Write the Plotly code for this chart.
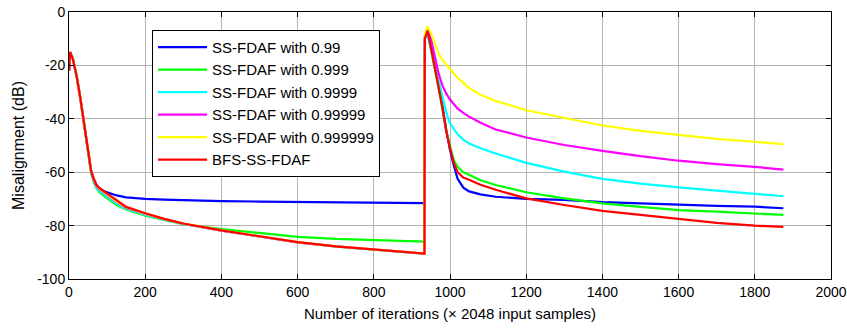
import plotly.graph_objects as go

# Iteration axis (x 2048 input samples)
iters = [0, 3, 10, 20, 30, 40, 50, 58, 65, 72, 80, 90, 100, 125, 150, 200, 250, 300,
         400, 500, 600, 700, 800, 900, 933,
         934, 941, 950, 960, 970, 980, 990, 1000, 1010, 1020, 1035, 1050, 1080, 1120,
         1200, 1300, 1400, 1500, 1600, 1700, 1800, 1875]

ss_099 = [-22, -15, -17.5, -24, -32.5, -42.5, -52, -59.5, -62.5, -64.8, -66, -67, -67.5, -68.7, -69.4, -70, -70.3, -70.5,
          -70.8, -71, -71.2, -71.3, -71.5, -71.6, -71.6,
          -10, -7, -13, -20, -27, -35, -44, -51.7, -57.5, -62.5, -65.8, -67.2, -68.3, -69.2,
          -70, -70.4, -71.2, -71.7, -72.3, -72.6, -72.9, -73.5]

ss_0999 = [-22, -15, -17.5, -24, -32.5, -42.5, -52.5, -60.5, -63.8, -66, -67.5, -68.8, -69.8, -72.3, -74, -76.3, -78, -79.5,
           -81.3, -82.8, -84.2, -85, -85.5, -86, -86,
           -10, -7.5, -14, -21, -28, -36, -44.5, -50.5, -55.5, -58, -60, -61, -63, -64.8,
           -67.5, -69.8, -71.7, -73, -74.2, -74.8, -75.4, -76]

ss_09999 = [-22, -15, -17.5, -24, -32.5, -42.5, -52.3, -60.3, -63.5, -65.8, -67, -68.2, -69.2, -71.8, -73.7, -76, -77.8, -79.4,
            -81.9, -84.1, -86.3, -87.9, -89.1, -90.1, -90.6,
            -10, -8, -14, -20, -26, -31.5, -37.5, -41.7, -44, -45.8, -47.8, -49.3, -51, -53,
            -56.5, -59.8, -62.5, -64.3, -65.7, -67, -68.2, -69]

ss_099999 = [-22, -15, -17.5, -24, -32.5, -42.5, -52.1, -59.8, -63, -65.2, -66.4, -67.5, -68.5, -71.2, -73.3, -75.6, -77.6, -79.3,
             -81.9, -84.1, -86.3, -87.8, -89, -90, -90.5,
             -9, -6.5, -10, -16.5, -23, -27.5, -30.5, -32.8, -34.6, -36.2, -37.8, -39.2, -41.5, -44,
             -47, -49.8, -52, -54, -55.7, -57, -58, -59]

ss_0999999 = [-22, -15, -17.5, -24, -32.5, -42.5, -52, -59.6, -62.7, -65, -66.2, -67.2, -68.2, -71, -73.1, -75.5, -77.5, -79.2,
              -81.8, -84, -86.2, -87.8, -89, -90, -90.5,
              -8, -5.5, -8, -12, -15.5, -18, -19.8, -21.2, -23, -24.6, -26.7, -28.5, -31, -33.3,
              -36.8, -39.7, -42.5, -44.5, -46, -47.5, -48.6, -49.5]

bfs_ss = [-22, -15, -17.5, -24, -32.5, -42.5, -52, -59.5, -62.5, -64.8, -66, -67, -68, -70.8, -73, -75.4, -77.5, -79.2,
          -81.8, -84, -86.2, -87.8, -89, -90, -90.5,
          -10, -7, -13.5, -20.5, -28, -36, -44.5, -51, -56.5, -60, -62, -62.8, -64.7, -66.6,
          -69.8, -72.3, -74.5, -76, -77.5, -79, -80, -80.5]

series_names = ["SS-FDAF with 0.99", "SS-FDAF with 0.999", "SS-FDAF with 0.9999",
                "SS-FDAF with 0.99999", "SS-FDAF with 0.999999", "BFS-SS-FDAF"]
series_values = [ss_099, ss_0999, ss_09999, ss_099999, ss_0999999, bfs_ss]
series_colors = ["#0000FF", "#00FF00", "#00FFFF", "#FF00FF", "#FFFF00", "#FF0000"]

x_ticks = [0, 200, 400, 600, 800, 1000, 1200, 1400, 1600, 1800, 2000]
y_ticks = [0, -20, -40, -60, -80, -100]
y_tick_labels = ["0", "-20", "-40", "-60", "-80", "-100"]

FONT = "Liberation Sans, Arial, sans-serif"

fig = go.Figure()
for i, (name, vals, col) in enumerate(zip(series_names, series_values, series_colors)):
    fig.add_trace(go.Scatter(
        x=iters, y=vals, mode="lines", name=name,
        line=dict(color=col, width=2.2),
        legendgroup=f"g{i}",
    ))

axis_common = dict(
    showline=True, linecolor="black", linewidth=1, mirror="ticks",
    ticks="inside", ticklen=5, tickcolor="black", tickwidth=1,
    showgrid=True, gridcolor="#b4b4b4", gridwidth=1,
    zeroline=False,
    tickfont=dict(family=FONT, size=14, color="black"),
)

fig.update_xaxes(
    range=[0, 2000], tickmode="array", tickvals=x_ticks,
    title=dict(text="Number of iterations (× 2048 input samples)",
               font=dict(family=FONT, size=15, color="black"), standoff=9),
    **axis_common,
)
fig.update_yaxes(
    range=[-100, 0], tickmode="array", tickvals=y_ticks, ticktext=y_tick_labels,
    title=dict(text="Misalignment (dB)",
               font=dict(family=FONT, size=16, color="black"), standoff=8),
    **axis_common,
)

fig.update_layout(
    width=847, height=331,
    margin=dict(l=69, r=16, t=12, b=52, autoexpand=False),
    paper_bgcolor="white", plot_bgcolor="white",
    font=dict(family=FONT, size=14, color="black"),
    showlegend=True,
    legend=dict(
        x=0.109, y=0.933, xanchor="left", yanchor="top",
        bgcolor="white", bordercolor="black", borderwidth=1,
        font=dict(family=FONT, size=15, color="black"),
        tracegroupgap=0, itemwidth=49,
    ),
)

fig.write_html("out.html", config={"displayModeBar": False},
               post_script="document.body.style.margin='0';document.body.style.overflow='hidden';")
